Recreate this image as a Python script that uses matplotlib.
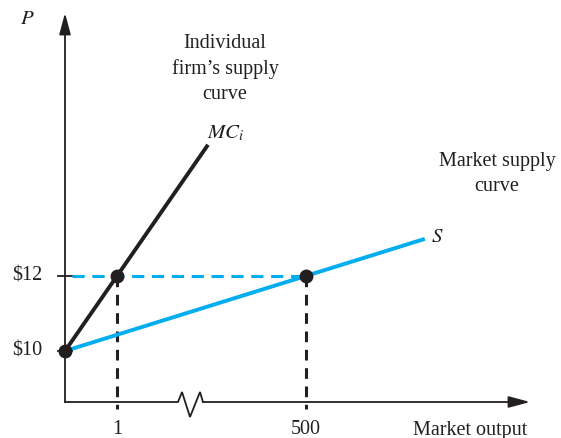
import matplotlib.pyplot as plt
import numpy as np

# data (x in axis position units, y in dollars)
prices = [10, 12]
price_labels = ["$10", "$12"]
out_pos = [1, 4.63]          # positions of the ticks on the (broken) output axis
out_labels = ["1", "500"]
mc_x = [0, 2.75]
mc_y = [10, 15.5]
s_x = [0, 6.92]
s_y = [10, 12.99]

blue = "#00AEEF"
dark = "#231F20"

plt.rcParams['font.family'] = ['Liberation Serif', 'DejaVu Serif']
plt.rcParams['mathtext.fontset'] = 'stix'

fig = plt.figure(figsize=(5.61, 4.38), dpi=100)
ax = fig.add_axes([0, 0, 1, 1])
# pixel mapping: x px = 65 + 52*x ; y px = 351 - 37.5*(y-10)
ax.set_xlim(-65 / 52, 496 / 52)
ax.set_ylim(10 - 87 / 37.5, 10 + 351 / 37.5)
ax.axis('off')

x0 = 0
y0 = 10 - 51 / 37.5
px = 1 / 52
py = 1 / 37.5

# y axis with arrow
ax.annotate("", xy=(x0, 10 + 338 / 37.5), xytext=(x0, y0),
            arrowprops=dict(arrowstyle="-|>,head_length=1.3,head_width=0.35",
                            color=dark, lw=1.3, shrinkA=0, shrinkB=0))
# x axis with break mark
zz_px = np.array([65, 178, 182, 190, 200, 203])
zz_x = (zz_px - 65) * px
zz_y = y0 + np.array([0, 0, 10, -15, 10, 0]) * py
ax.plot(zz_x, zz_y, color=dark, lw=1.3, solid_joinstyle='miter')
ax.annotate("", xy=((530 - 65) * px, y0), xytext=(zz_x[-1], y0),
            arrowprops=dict(arrowstyle="-|>,head_length=1.3,head_width=0.35",
                            color=dark, lw=1.3, shrinkA=0, shrinkB=0))

# price ticks
for p, lab in zip(prices, price_labels):
    ax.plot([-7 * px, 7 * px], [p, p], color=dark, lw=1.3)
    ax.text(-23 * px, p, lab, ha='right', va='center', fontsize=14.5, color=dark)

# dashed guides
ax.plot([7 * px, out_pos[1]], [prices[1], prices[1]], color=blue, lw=2.2,
        dashes=(4, 2.5))
for xp, lab in zip(out_pos, out_labels):
    ax.plot([xp, xp], [prices[1], y0 - 7 * py], color=dark, lw=2.2, dashes=(3.5, 2.5))
    ax.text(xp, y0 - 28 * py, lab, ha='center', va='center', fontsize=14.5, color=dark)

# supply curves
ax.plot(s_x, s_y, color=blue, lw=2.8, solid_capstyle='butt')
ax.plot(mc_x, mc_y, color=dark, lw=2.8, solid_capstyle='butt')

# dots
ax.plot([0, out_pos[0], out_pos[1]], [10, 12, 12], 'o', color=dark, ms=9)

# labels
ax.text(-38 * px, 10 + 331 / 37.5, "$P$", ha='center', va='center', fontsize=15, color=dark)
ax.text((225 - 65) * px, 10 + (351 - 69) / 37.5, "Individual\nfirm\u2019s supply\ncurve",
        ha='center', va='center', fontsize=14.5, color=dark, linespacing=1.4)
ax.text((226 - 65) * px, 10 + (351 - 133) / 37.5, "$MC_i$", ha='center', va='center',
        fontsize=15, color=dark)
ax.text((497 - 65) * px, 10 + (351 - 174) / 37.5, "Market supply\ncurve",
        ha='center', va='center', fontsize=14.5, color=dark, linespacing=1.4)
ax.text((437 - 65) * px, 10 + (351 - 238) / 37.5, "$S$", ha='center', va='center',
        fontsize=15, color=dark)
ax.text((470 - 65) * px, y0 - 28 * py, "Market output", ha='center', va='center',
        fontsize=14.5, color=dark)

fig.savefig("out.png", dpi=100)
